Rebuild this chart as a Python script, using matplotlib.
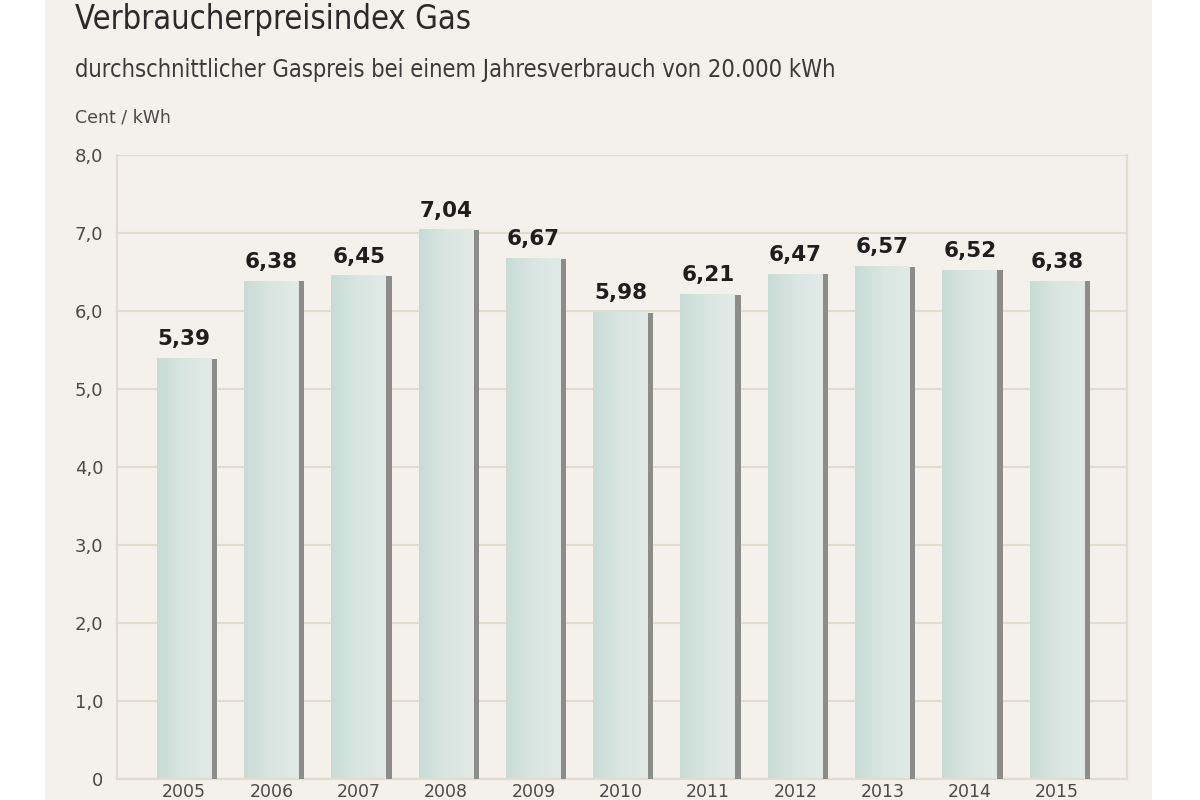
import matplotlib.pyplot as plt
import numpy as np
from matplotlib.colors import LinearSegmentedColormap
from matplotlib.patches import Rectangle

years = ["2005", "2006", "2007", "2008", "2009", "2010", "2011", "2012", "2013", "2014", "2015"]
prices = [5.39, 6.38, 6.45, 7.04, 6.67, 5.98, 6.21, 6.47, 6.57, 6.52, 6.38]
price_labels = ["5,39", "6,38", "6,45", "7,04", "6,67", "5,98", "6,21", "6,47", "6,57", "6,52", "6,38"]
yticks = [0, 1, 2, 3, 4, 5, 6, 7, 8]
ytick_labels = ["0", "1,0", "2,0", "3,0", "4,0", "5,0", "6,0", "7,0", "8,0"]

narrow = ["Liberation Sans Narrow", "DejaVu Sans"]
panel_bg = "#f4f1ec"
grid_col = "#e2dbd0"
text_col = "#4a4a4a"

fig = plt.figure(figsize=(12, 8), dpi=100)
fig.patch.set_facecolor("white")
# beige panel behind the chart
fig.patches.append(Rectangle((45 / 1200, 0), (1152 - 45) / 1200, 1, transform=fig.transFigure,
                             facecolor=panel_bg, edgecolor="none", zorder=-5))

ax = fig.add_axes([117 / 1200, 1 - 779 / 800, (1127 - 117) / 1200, (779 - 155) / 800])
ax.set_facecolor(panel_bg)

x = np.arange(len(years))
width = 0.69
edge = 0.06
grad = np.linspace(0, 1, 100).reshape(1, -1)
cmap = LinearSegmentedColormap.from_list("bar", ["#c8dcd6", "#d9e6e2", "#e1eae7"])

for xi, v, lab in zip(x, prices, price_labels):
    left = xi - width / 2
    ax.imshow(grad, extent=(left, left + width - edge, 0, v), aspect="auto",
              cmap=cmap, zorder=2, interpolation="bicubic")
    ax.add_patch(Rectangle((left + width - edge, 0), edge, v, facecolor="#8c8c8a",
                           edgecolor="none", zorder=3))
    ax.text(xi - edge / 2, v + 0.12, lab, ha="center", va="bottom", fontsize=15.5,
            fontweight="bold", color="#1e1e1e", zorder=4)

ax.set_xlim(-0.8, 10.77)
ax.set_ylim(0, 8)
ax.set_yticks(yticks)
ax.set_yticklabels(ytick_labels)
ax.set_xticks(x - edge / 2)
ax.set_xticklabels(years)
ax.yaxis.grid(True, color=grid_col, linewidth=1.6, zorder=1)
ax.set_axisbelow(True)
ax.tick_params(axis="both", length=0, labelsize=13, labelcolor=text_col)
ax.tick_params(axis="y", pad=10)
ax.tick_params(axis="x", pad=3, labelsize=12.5)
for s in ["left", "right", "bottom"]:
    ax.spines[s].set_color(grid_col)
    ax.spines[s].set_linewidth(1.6)
ax.spines["top"].set_visible(False)

fig.text(75 / 1200, 1 - 20 / 800, "Verbraucherpreisindex Gas", fontsize=23.5, family=narrow,
         fontstretch="condensed", color="#2a2a2a", va="center", ha="left")
fig.text(75 / 1200, 1 - 70 / 800, "durchschnittlicher Gaspreis bei einem Jahresverbrauch von 20.000 kWh",
         fontsize=17, family=narrow, fontstretch="condensed", color="#3a3a3a", va="center", ha="left")
fig.text(75 / 1200, 1 - 117 / 800, "Cent / kWh", fontsize=12.5, color=text_col, va="center", ha="left")

fig.savefig("out.png", dpi=100, facecolor=fig.get_facecolor())
